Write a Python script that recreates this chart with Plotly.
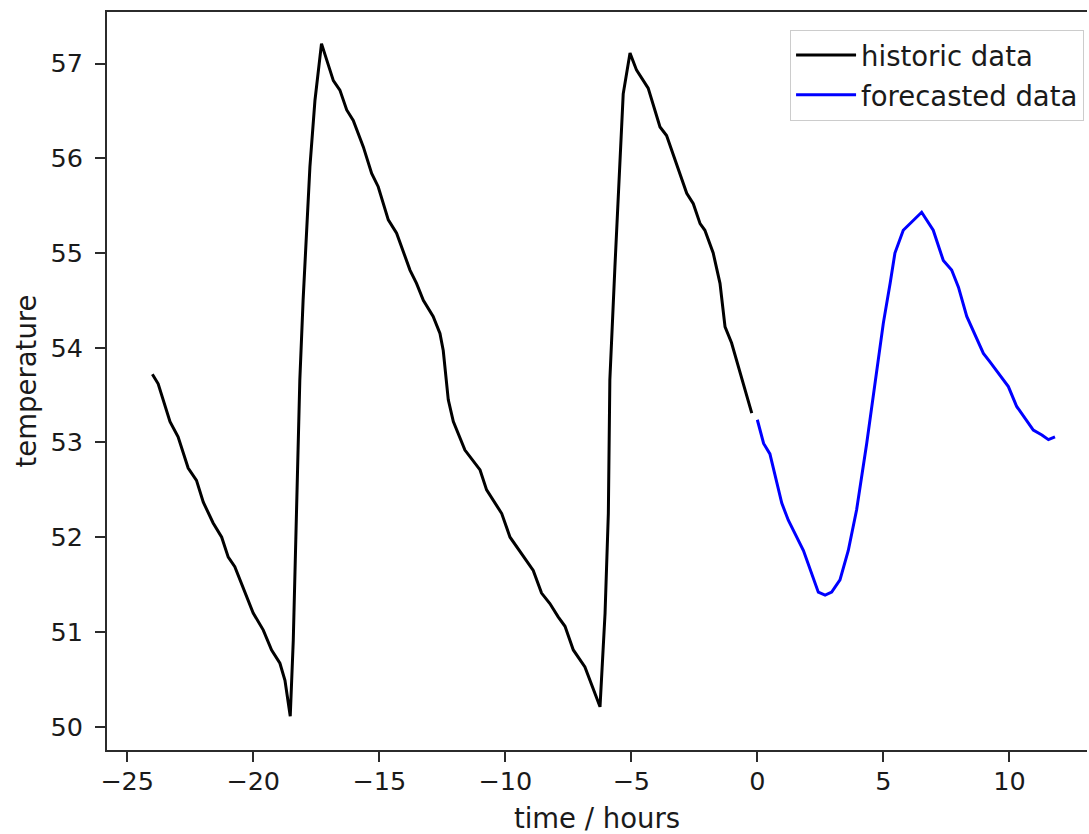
import plotly.graph_objects as go

# historic data (time in hours, temperature)
hist_time = [-24.0, -23.77, -23.30, -22.98, -22.58, -22.25, -21.98, -21.59, -21.25, -20.99,
             -20.73, -20.40, -20.00, -19.60, -19.27, -18.94, -18.74, -18.53, -18.41, -18.15,
             -18.02, -17.75, -17.55, -17.29, -16.82, -16.56, -16.29, -16.03, -15.63, -15.30,
             -15.04, -14.64, -14.31, -13.78, -13.52, -13.25, -12.86, -12.59, -12.46, -12.26,
             -12.06, -11.60, -11.00, -10.74, -10.14, -9.81, -9.55, -9.15, -8.89, -8.56,
             -8.23, -7.90, -7.63, -7.30, -6.84, -6.24, -6.04, -5.91, -5.85, -5.65,
             -5.45, -5.32, -5.05, -4.79, -4.33, -3.86, -3.60, -2.80, -2.54, -2.27,
             -2.08, -1.75, -1.48, -1.28, -1.02, -0.56, -0.22]
hist_temp = [53.72, 53.62, 53.22, 53.06, 52.73, 52.60, 52.37, 52.15, 52.00, 51.79,
             51.69, 51.46, 51.20, 51.02, 50.81, 50.67, 50.49, 50.11, 50.91, 53.66,
             54.50, 55.91, 56.61, 57.21, 56.82, 56.72, 56.51, 56.40, 56.12, 55.84,
             55.70, 55.35, 55.21, 54.82, 54.68, 54.50, 54.33, 54.15, 53.97, 53.45,
             53.22, 52.92, 52.71, 52.50, 52.25, 52.00, 51.90, 51.74, 51.65, 51.41,
             51.30, 51.16, 51.06, 50.81, 50.63, 50.21, 51.20, 52.25, 53.66, 54.85,
             55.91, 56.68, 57.11, 56.93, 56.74, 56.33, 56.24, 55.63, 55.52, 55.31,
             55.24, 55.00, 54.68, 54.22, 54.05, 53.62, 53.31]

# forecasted data
fc_time = [0.0, 0.25, 0.50, 0.97, 1.23, 1.83, 2.42, 2.69, 2.95, 3.28,
           3.61, 3.94, 4.34, 4.67, 5.00, 5.27, 5.46, 5.79, 6.52, 6.98,
           7.38, 7.71, 7.98, 8.31, 8.97, 9.23, 9.96, 10.29, 10.95, 11.29,
           11.55, 11.81]
fc_temp = [53.24, 52.99, 52.88, 52.36, 52.18, 51.86, 51.42, 51.39, 51.42, 51.55,
           51.86, 52.29, 52.99, 53.62, 54.26, 54.68, 55.00, 55.24, 55.43, 55.24,
           54.92, 54.82, 54.64, 54.33, 53.94, 53.85, 53.59, 53.38, 53.13, 53.08,
           53.03, 53.06]

x_ticks = [-25, -20, -15, -10, -5, 0, 5, 10]
x_labels = ["\u221225", "\u221220", "\u221215", "\u221210", "\u22125", "0", "5", "10"]
y_ticks = [50, 51, 52, 53, 54, 55, 56, 57]

FONT = "DejaVu Sans"
TXT = "#1a1a1a"
AX = "#2b2b2b"
TICK_SIZE = 25.5
LABEL_SIZE = 27.5

fig = go.Figure()
fig.add_trace(go.Scatter(x=hist_time, y=hist_temp, mode="lines", name="historic data",
                         legendgroup="h", line=dict(color="black", width=3)))
fig.add_trace(go.Scatter(x=fc_time, y=fc_temp, mode="lines", name="forecasted data",
                         legendgroup="f", line=dict(color="blue", width=3)))

fig.update_layout(
    width=1089, height=834,
    margin=dict(l=107, r=2, t=12, b=84, autoexpand=False),
    paper_bgcolor="white", plot_bgcolor="white",
    font=dict(family=FONT, size=TICK_SIZE, color=TXT),
    showlegend=True,
    legend=dict(x=0.997, y=0.976, xanchor="right", yanchor="top",
                bgcolor="rgba(255,255,255,0.8)", bordercolor="#cccccc", borderwidth=1,
                font=dict(family=FONT, size=LABEL_SIZE, color=TXT), tracegroupgap=1,
                itemwidth=60),
    xaxis=dict(range=[-25.8, 13.08], tickvals=x_ticks, ticktext=x_labels,
               showgrid=False, zeroline=False, showline=True, linecolor=AX, linewidth=2,
               mirror=True, ticks="outside", ticklen=10, tickwidth=2, tickcolor=AX,
               automargin=False, ticklabelstandoff=-3,
               title=dict(text="time / hours", font=dict(family=FONT, size=LABEL_SIZE, color=TXT), standoff=16),
               tickfont=dict(family=FONT, size=TICK_SIZE, color=TXT)),
    yaxis=dict(range=[49.754, 57.544], tickvals=y_ticks,
               showgrid=False, zeroline=False, showline=True, linecolor=AX, linewidth=2,
               mirror=False, ticks="outside", ticklen=10, tickwidth=2, tickcolor=AX,
               automargin=False, ticklabelstandoff=7,
               title=dict(text="temperature", font=dict(family=FONT, size=LABEL_SIZE, color=TXT), standoff=6),
               tickfont=dict(family=FONT, size=TICK_SIZE, color=TXT)),
)

# remove the default page margin so the figure fills the window exactly
fig.write_html("out.html",
               config={"displayModeBar": False},
               post_script="document.body.style.margin='0';document.body.style.overflow='hidden';")
